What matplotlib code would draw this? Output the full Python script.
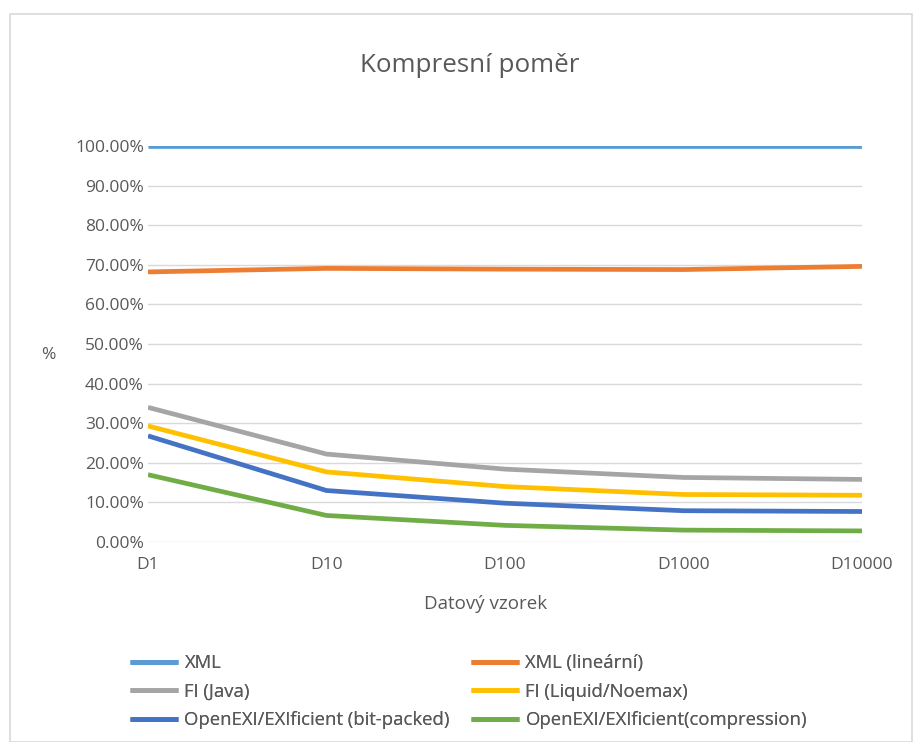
import matplotlib
matplotlib.use("Agg")
import matplotlib.pyplot as plt
from matplotlib.patches import Rectangle
from matplotlib.ticker import PercentFormatter

# Data (compression ratio in %)
samples = ["D1", "D10", "D100", "D1000", "D10000"]
xml = [100.0, 100.0, 100.0, 100.0, 100.0]
xml_linear = [68.2, 69.1, 68.9, 68.8, 69.6]
fi_java = [34.0, 22.2, 18.4, 16.3, 15.8]
fi_liquid = [29.3, 17.7, 14.0, 12.0, 11.8]
exi_bitpacked = [26.8, 13.0, 9.8, 7.9, 7.7]
exi_compression = [17.0, 6.7, 4.2, 3.0, 2.8]

series = [
    ("XML", xml, "#5b9bd5"),
    ("XML (lineární)", xml_linear, "#ed7d31"),
    ("FI (Java)", fi_java, "#a5a5a5"),
    ("FI (Liquid/Noemax)", fi_liquid, "#ffc000"),
    ("OpenEXI/EXIficient (bit-packed)", exi_bitpacked, "#4472c4"),
    ("OpenEXI/EXIficient(compression)", exi_compression, "#70ad47"),
]

plt.rcParams['font.family'] = ['Open Sans', 'DejaVu Sans']
text_col = "#595959"

fig = plt.figure(figsize=(9.15, 7.42), dpi=100)
W, H = 915, 742

# chart border
fig.patches.append(Rectangle((10 / W, 0), (912 - 10) / W, 1 - 14 / H,
                             transform=fig.transFigure, fill=False,
                             edgecolor="#d9d9d9", linewidth=1.2))

ax = fig.add_axes([148 / W, 1 - 542 / H, (862 - 148) / W, (542 - 146) / H])

x = list(range(len(samples)))
handles = []
for name, vals, col in series:
    h, = ax.plot(x, vals, color=col, linewidth=3.4, label=name,
                 solid_capstyle="butt", zorder=3)
    handles.append(h)

ax.set_xlim(0, len(samples) - 1)
ax.set_ylim(0, 100)
ax.set_yticks(range(0, 101, 10))
ax.yaxis.set_major_formatter(PercentFormatter(decimals=2))
ax.set_xticks(x)
ax.set_xticklabels(samples)
ax.grid(axis="y", color="#d9d9d9", linewidth=1.0, zorder=0)
for s in ax.spines.values():
    s.set_visible(False)
ax.tick_params(length=0, labelsize=12.5, colors=text_col)
ax.tick_params(axis="y", pad=3)
ax.tick_params(axis="x", pad=11)
ax.set_axisbelow(True)

fig.text(470 / W, 1 - 66 / H, "Kompresní poměr", ha="center", va="center",
         fontsize=18.7, color=text_col)
fig.text(48 / W, 1 - 355 / H, "%", ha="center", va="center",
         fontsize=12.5, color=text_col)
fig.text(486 / W, 1 - 604 / H, "Datový vzorek", ha="center", va="center",
         fontsize=13.5, color=text_col)

# legend: two columns placed separately
leg_kw = dict(loc="upper left", frameon=False, fontsize=13.3, labelcolor=text_col,
              handlelength=2.6, labelspacing=0.58, handletextpad=0.35,
              borderpad=0, borderaxespad=0)
for col_idx, x0 in [(0, 130), (1, 471)]:
    idx = [col_idx, col_idx + 2, col_idx + 4]
    leg = fig.legend([handles[i] for i in idx], [series[i][0] for i in idx],
                     bbox_to_anchor=(x0 / W, 1 - 654 / H), **leg_kw)
    fig.add_artist(leg)

fig.savefig("out.png", dpi=100)
